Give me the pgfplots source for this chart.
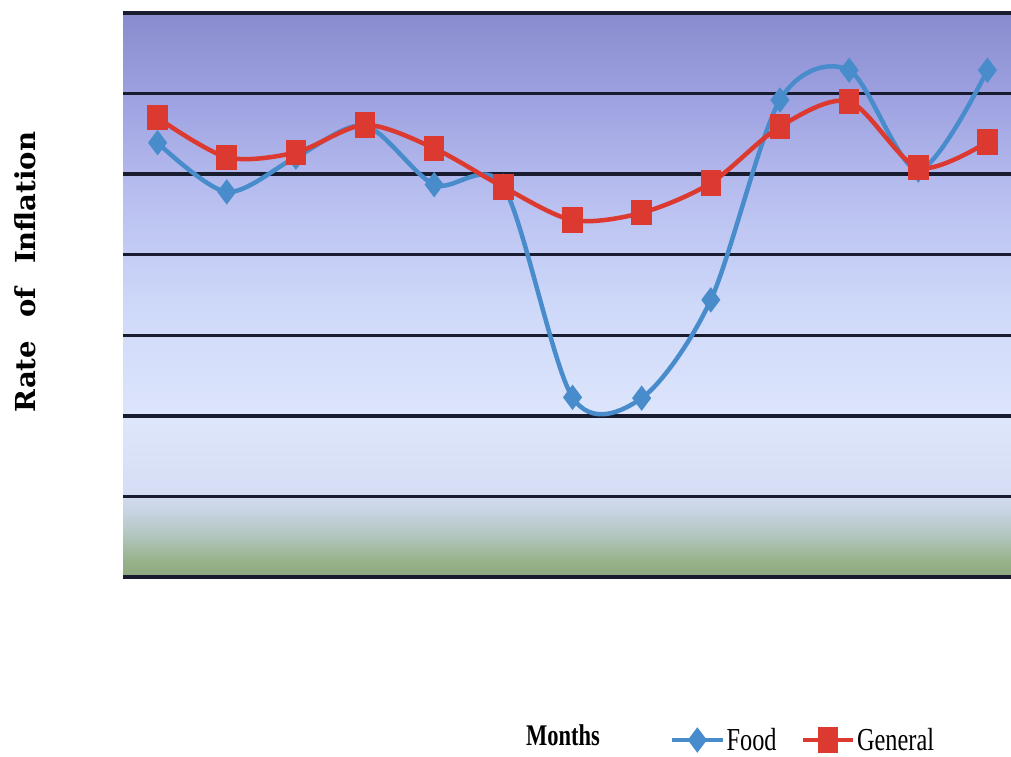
\documentclass[border=0pt]{standalone}
\usepackage{pgfplots}
\pgfplotsset{compat=1.18}
\usepackage{fontspec}
\setmainfont{Liberation Serif}
\newfontfamily\dvserif{DejaVu Serif}

\definecolor{foodblue}{RGB}{72,140,204}
\definecolor{genred}{RGB}{220,58,48}
\definecolor{gridnavy}{RGB}{24,28,46}
\definecolor{bga}{RGB}{142,168,126}
\definecolor{bgb}{RGB}{152,178,140}
\definecolor{bgc}{RGB}{178,198,190}
\definecolor{bgd}{RGB}{200,212,228}
\definecolor{bge}{RGB}{214,222,245}
\definecolor{bgf}{RGB}{222,230,252}
\definecolor{bgg}{RGB}{205,215,248}
\definecolor{bgh}{RGB}{185,192,240}
\definecolor{bgi}{RGB}{158,162,225}
\definecolor{bgj}{RGB}{136,140,206}

\pgfdeclareverticalshading{inflbg}{100bp}{
  color(0bp)=(bga); color(25bp)=(bga); color(26.5bp)=(bgb);
  color(28.7bp)=(bgc); color(30.9bp)=(bgd); color(32.7bp)=(bge);
  color(38.9bp)=(bgf); color(49.6bp)=(bgg); color(58.4bp)=(bgh);
  color(67.3bp)=(bgi); color(75bp)=(bgj); color(100bp)=(bgj)}

\begin{document}
\begin{tikzpicture}
\useasboundingbox (-123pt,-179pt) rectangle (888pt,577pt);
\node[rotate=90] at (-98pt,305pt)
  {\dvserif\bfseries\fontsize{27.5}{30}\selectfont Rate\hspace{0.85em}of\hspace{0.85em}Inflation};
\begin{axis}[at={(0pt,0pt)}, anchor=south west,
             scale only axis,
             width=899pt,
             height=564pt,
             xmin=-0.5, xmax=12.5,
             ymin=0, ymax=7,
             axis line style={draw=none},
             xtick=\empty,
             ytick={0,1,...,7},
             yticklabel=\empty,
             major tick length=0pt,
             ymajorgrids,
             grid style={gridnavy, line width=3.5pt},
             axis background/.style={shading=inflbg},
             xlabel={\scalebox{0.75}[1]{\bfseries\fontsize{30}{34}\selectfont Months}},
             xlabel style={at={(axis description cs:0.4894,-0.280)}, anchor=center},
             legend style={at={(axis description cs:0.605,-0.289)}, anchor=west,
                           draw=none, fill=none, legend columns=-1,
                           font=\fontsize{32}{36}\selectfont,
                           /tikz/every even column/.append style={column sep=22pt}},
             legend image code/.code={
                 \draw[#1, mark repeat=2, mark phase=2]
                     plot coordinates {(0pt,0pt) (25pt,0pt) (50pt,0pt)};}]
    \addplot[foodblue, line width=4.5pt, smooth, mark=diamond*,
             mark size=9pt, mark options={solid, foodblue}] coordinates{
        (0, 5.39)
        (1, 4.78)
        (2, 5.21)
        (3, 5.60)
        (4, 4.87)
        (5, 4.85)
        (6, 2.23)
        (7, 2.22)
        (8, 3.44)
        (9, 5.92)
        (10, 6.29)
        (11, 5.05)
        (12, 6.29)
    };
    \addlegendentry{\scalebox{0.76}[1]{Food}}
    \addplot[genred, line width=4.5pt, smooth, mark=square*,
             mark size=8pt, mark options={solid, genred, yscale=1.3}] coordinates{
        (0, 5.70)
        (1, 5.21)
        (2, 5.27)
        (3, 5.61)
        (4, 5.32)
        (5, 4.84)
        (6, 4.43)
        (7, 4.52)
        (8, 4.89)
        (9, 5.59)
        (10, 5.90)
        (11, 5.08)
        (12, 5.40)
    };
    \addlegendentry{\scalebox{0.76}[1]{General}}
\end{axis}
\end{tikzpicture}
\end{document}
